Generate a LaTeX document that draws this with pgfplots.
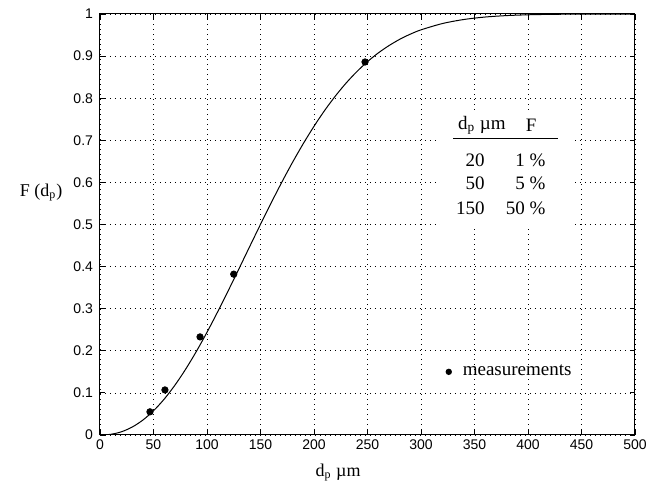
\documentclass[border=0pt]{standalone}
\usepackage{fontspec}
\setmainfont{Liberation Serif}
\setsansfont{Liberation Sans}
\usepackage{pgfplots}
\pgfplotsset{compat=1.18}

\begin{document}
\begin{tikzpicture}
\begin{axis}[
  scale only axis,
  width=267.5pt, height=210.5pt,
  xmin=0, xmax=500, ymin=0, ymax=1,
  xtick={0,50,...,500},
  ytick={0,0.1,...,1},
  tick align=inside,
  major tick length=2.5pt,
  tick style={black, line width=0.4pt},
  axis line style={black, line width=0.5pt},
  grid=major,
  grid style={black, densely dotted, line width=0.35pt, dash pattern=on 0.5pt off 2pt},
  ticklabel style={font=\sffamily\fontsize{7}{8}\selectfont},
  /pgf/number format/assume math mode=true,
  xticklabel style={yshift=1pt},
  xlabel={d\textsubscript{p} µm},
  xlabel style={font=\fontsize{9}{11}\selectfont, at={(axis description cs:0.445,-0.052)}, anchor=north},
  ylabel={F (d\textsubscript{p})},
  ylabel style={font=\fontsize{9}{11}\selectfont, rotate=-90, at={(axis description cs:-0.163,0.575)}, anchor=west},
  legend style={draw=none, fill=none, font=\fontsize{9.5}{11}\selectfont,
    at={(axis description cs:0.640,0.150)}, anchor=west, inner sep=1pt},
  legend cell align=left,
  legend image code/.code={\fill[black, draw=none] (0pt,0pt) circle (1.6pt); \path[draw=none] (-2pt,0pt) -- (5pt,0pt);},
]
\addplot[black, line width=0.5pt, smooth, forget plot] coordinates {
  (0,0) (10,0.0016) (20,0.0076) (30,0.0187) (40,0.0353) (50,0.0575)
  (60,0.0852) (70,0.1182) (80,0.1561) (90,0.1982) (100,0.2440)
  (110,0.2927) (120,0.3435) (130,0.3955) (140,0.4481) (150,0.5003)
  (160,0.5514) (170,0.6008) (180,0.6479) (190,0.6921) (200,0.7332)
  (210,0.7710) (220,0.8052) (230,0.8359) (240,0.8630) (250,0.8868)
  (260,0.9073) (270,0.9248) (280,0.9397) (290,0.9521) (300,0.9623)
  (320,0.9773) (340,0.9869) (360,0.9928) (380,0.9962) (400,0.9981)
  (420,0.9991) (440,0.9996) (460,0.9998) (500,1.0)
};
\addplot[only marks, mark=*, mark size=1.6pt, black] coordinates {
  (46.7,0.055) (60.7,0.107) (93.5,0.233) (125,0.382) (247.7,0.886)
};
\addlegendentry{measurements}

% white panel behind the little table
\fill[white] (axis cs:318,0.767) rectangle (axis cs:444,0.492);
\begin{scope}[font=\fontsize{9.5}{11}\selectfont]
\node[anchor=west] at (axis cs:328,0.736) {d\textsubscript{p} µm};
\node at (axis cs:403,0.736) {F};
\draw[black, line width=0.6pt] (axis cs:330,0.705) -- (axis cs:428,0.705);
\node[anchor=east] at (axis cs:366,0.653) {20};
\node[anchor=east] at (axis cs:366,0.599) {50};
\node[anchor=east] at (axis cs:366,0.539) {150};
\node[anchor=east] at (axis cs:423,0.653) {1 \%};
\node[anchor=east] at (axis cs:423,0.599) {5 \%};
\node[anchor=east] at (axis cs:423,0.539) {50 \%};
\end{scope}
\end{axis}
\path (current axis.south west) ++(-50pt,-24.5pt) rectangle ++(330.5pt,242pt);
\end{tikzpicture}
\end{document}
